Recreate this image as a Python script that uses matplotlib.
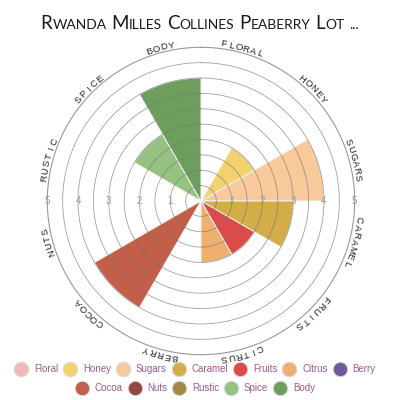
import numpy as np
import matplotlib
matplotlib.use('Agg')
import matplotlib.pyplot as plt
from matplotlib.lines import Line2D
from matplotlib.transforms import IdentityTransform

categories = ['Floral', 'Honey', 'Sugars', 'Caramel', 'Fruits', 'Citrus',
              'Berry', 'Cocoa', 'Nuts', 'Rustic', 'Spice', 'Body']
scores = [0, 2, 4, 3, 2, 2, 0, 4, 0, 0, 2.5, 4]
colors = ['#f2b8b8', '#f3d26e', '#f8c99a', '#d2ad48', '#dd4a4a', '#edb06f',
          '#6d5a9d', '#c35e48', '#944646', '#a38a4a', '#96c382', '#6e9e5e']
ticks = [1, 2, 3, 4, 5]
title = 'Rwanda Milles Collines Peaberry Lot ...'

fig = plt.figure(figsize=(4, 4), dpi=100)
fig.patch.set_facecolor('white')

# polar area, centre at (201, 201) px, radius 5 -> 153.7 px
R = 153.7 / 400
ax = fig.add_axes([0.5025 - R, 0.4975 - R, 2 * R, 2 * R], projection='polar')
ax.set_theta_zero_location('N')
ax.set_theta_direction(-1)
ax.set_ylim(0, 5)
ax.set_axis_off()

n = len(categories)
step = 2 * np.pi / n
theta = np.arange(n) * step + step / 2
ax.bar(theta, scores, width=step, color=colors, edgecolor='#f4f4f4',
       linewidth=0.7, zorder=2)

# grid rings
ring = np.linspace(0, 2 * np.pi, 361)
for r in np.arange(0.5, 5.01, 0.5):
    if r < 5:
        ax.plot(ring, np.full_like(ring, r), color='#7a7a7a', lw=0.6,
                alpha=0.7, zorder=3, clip_on=False)
    else:
        ax.plot(ring, np.full_like(ring, r), color='#999999', lw=0.8,
                zorder=3, clip_on=False)

# radial tick labels on both sides
for v in ticks:
    for a in (np.pi / 2, 3 * np.pi / 2):
        ax.text(a, v, str(v), ha='center', va='center', fontsize=7,
                color='#999999', family='Liberation Sans', zorder=4)

# category names bent along the ring
lab_r = 5.15
letter_step = np.radians(2.7)
for name, c in zip(categories, theta):
    s = name.upper()
    for i, ch in enumerate(s):
        a = c + (i - (len(s) - 1) / 2) * letter_step
        ax.text(a, lab_r, ch, ha='center', va='center',
                rotation=-np.degrees(a), rotation_mode='anchor',
                fontsize=6.8, color='#222222', family='Liberation Sans')

# title in small caps
renderer = fig.canvas.get_renderer()
big, small = 13.5, 10
parts = []
for w in title.split(' '):
    if w[0].isalpha():
        parts.append((w[0], big))
        if len(w) > 1:
            parts.append((w[1:].upper(), small))
    else:
        parts.append((w, small))
    parts.append((' ', 0))
parts = parts[:-1]
space = 5.0
x = 0.0
items = []
for s, size in parts:
    if s == ' ':
        x += space
        continue
    t = fig.text(x, 400 - 29, s, fontsize=size, family='Lato',
                 color='#1a1a1a', transform=IdentityTransform(),
                 ha='left', va='baseline')
    items.append((t, x))
    x += t.get_window_extent(renderer).width
shift = 200 - x / 2
for t, x0 in items:
    t.set_x(x0 + shift)

# legend in two centred rows
handles = [Line2D([], [], marker='o', ls='', ms=10.5, mfc=col,
                  mec='#dcdcdc', mew=0.8) for col in colors]
rows = [(0, 7, 0.0775), (7, 12, 0.03)]
for a, b, y in rows:
    fig.legend(handles[a:b], categories[a:b], loc='center',
               bbox_to_anchor=(0.49, y), ncol=b - a, frameon=False,
               handlelength=1, handletextpad=0.8,
               columnspacing=0.75, labelcolor='#a05a8c',
               prop={'family': 'Liberation Sans', 'size': 7},
               borderaxespad=0, borderpad=0)

fig.savefig('out.png', dpi=100)
